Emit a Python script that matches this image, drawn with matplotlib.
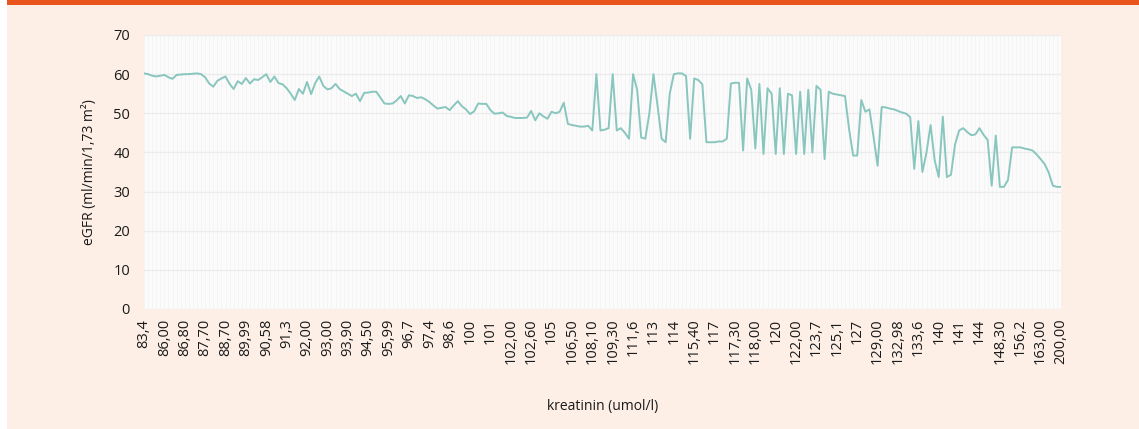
import matplotlib
matplotlib.use('Agg')
import matplotlib.pyplot as plt
from matplotlib.patches import Rectangle

# eGFR values, one per kreatinin measurement (sorted by kreatinin)
egfr = [
    60.2, 60.0, 59.6, 59.4, 59.6, 59.8, 59.2, 58.8, 59.8, 59.9,
    60.0, 60.0, 60.1, 60.2, 60.0, 59.2, 57.6, 56.8, 58.3, 58.9,
    59.4, 57.5, 56.2, 58.2, 57.5, 59.0, 57.6, 58.7, 58.5, 59.2,
    60.0, 58.0, 59.4, 57.7, 57.4, 56.4, 55.0, 53.4, 56.2, 55.0,
    58.0, 54.9, 57.7, 59.4, 57.0, 56.1, 56.4, 57.5, 56.2, 55.6,
    55.0, 54.4, 55.0, 53.1, 55.2, 55.3, 55.5, 55.5, 54.0, 52.5,
    52.4, 52.5, 53.3, 54.4, 52.5, 54.6, 54.4, 53.9, 54.1, 53.6,
    52.9, 52.0, 51.2, 51.4, 51.6, 50.8, 52.0, 53.1, 51.8, 51.0,
    49.8, 50.5, 52.5, 52.4, 52.4, 50.8, 49.9, 50.0, 50.2, 49.3,
    49.1, 48.8, 48.8, 48.8, 48.9, 50.6, 48.2, 50.0, 49.2, 48.6,
    50.4, 50.0, 50.4, 52.7, 47.3, 47.0, 46.8, 46.6, 46.6, 46.8,
    45.6, 60.0, 45.6, 45.8, 46.2, 60.0, 45.6, 46.2, 45.0, 43.5,
    60.0, 56.0, 43.8, 43.5, 50.0, 60.0, 52.0, 43.5, 42.6, 55.0,
    60.0, 60.2, 60.2, 59.5, 43.5, 58.9, 58.5, 57.4, 42.6, 42.6,
    42.6, 42.8, 42.8, 43.5, 57.6, 57.8, 57.8, 40.5, 58.9, 56.0,
    41.0, 57.5, 39.6, 56.4, 55.0, 39.6, 56.4, 39.6, 55.0, 54.6,
    39.6, 55.5, 39.6, 56.0, 40.0, 57.0, 56.0, 38.3, 55.5, 55.0,
    54.8, 54.6, 54.4, 46.0, 39.2, 39.2, 53.4, 50.4, 51.0, 44.0,
    36.6, 51.6, 51.5, 51.2, 51.0, 50.6, 50.2, 49.9, 49.0, 35.8,
    48.0, 35.0, 40.0, 47.0, 38.0, 33.7, 49.1, 33.7, 34.3, 42.0,
    45.6, 46.2, 45.2, 44.4, 44.6, 46.2, 44.5, 43.2, 31.5, 44.3,
    31.2, 31.2, 33.0, 41.3, 41.3, 41.3, 41.0, 40.8, 40.5, 39.5,
    38.3, 37.0, 34.8, 31.5, 31.2, 31.2,
]

# kreatinin labels shown under every 5th measurement
kreatinin_labels = [
    '83,4', '86,00', '86,80', '87,70', '88,70', '89,99', '90,58', '91,3',
    '92,00', '93,00', '93,90', '94,50', '95,99', '96,7', '97,4', '98,6',
    '100', '101', '102,00', '102,60', '105', '106,50', '108,10', '109,30',
    '111,6', '113', '114', '115,40', '117', '117,30', '118,00', '120',
    '122,00', '123,7', '125,1', '127', '129,00', '132,98', '133,6', '140',
    '141', '144', '148,30', '156,2', '163,00', '200,00',
]
label_step = 5

plt.rcParams['font.family'] = ['Open Sans', 'DejaVu Sans']

fig = plt.figure(figsize=(11.39, 4.29), dpi=100, facecolor='#fdefe6')
# white strip on the left and the orange band on top
fig.patches.append(Rectangle((0, 0), 7 / 1139, 1, transform=fig.transFigure,
                             facecolor='white', edgecolor='none', zorder=0))
fig.patches.append(Rectangle((7 / 1139, 1 - 5 / 429), 1, 5 / 429, transform=fig.transFigure,
                             facecolor='#e8541b', edgecolor='none', zorder=1))

ax = fig.add_axes([144 / 1139, 1 - 309 / 429, (1061 - 144) / 1139, (309 - 35) / 429])
ax.set_facecolor('#fbfbfb')

x = list(range(len(egfr)))
# faint vertical gridline at every category
for xi in x:
    ax.axvline(xi, color='#f1f1f1', lw=0.5, zorder=0)
ax.yaxis.grid(True, color='#ececec', lw=1.0)
ax.set_axisbelow(True)

ax.plot(x, egfr, color='#88c6be', lw=1.4, zorder=3)

ax.set_xlim(0, len(egfr) - 1)
ax.set_ylim(0, 70)
ax.set_yticks(range(0, 71, 10))
ax.set_xticks(x[::label_step])
ax.set_xticklabels(kreatinin_labels, rotation=90)
ax.tick_params(axis='both', length=0, labelsize=10.5, colors='#1a1a1a')
ax.tick_params(axis='y', pad=10)
ax.tick_params(axis='x', pad=7)
for s in ax.spines.values():
    s.set_visible(False)

ax.set_ylabel('eGFR (ml/min/1,73 m²)', fontsize=10, color='#1a1a1a')
ax.yaxis.set_label_coords(-0.051, 0.5)
ax.set_xlabel('kreatinin (umol/l)', fontsize=10, color='#1a1a1a')
ax.xaxis.set_label_coords(0.5, -0.33)

fig.savefig('out.png', dpi=100, facecolor=fig.get_facecolor())
